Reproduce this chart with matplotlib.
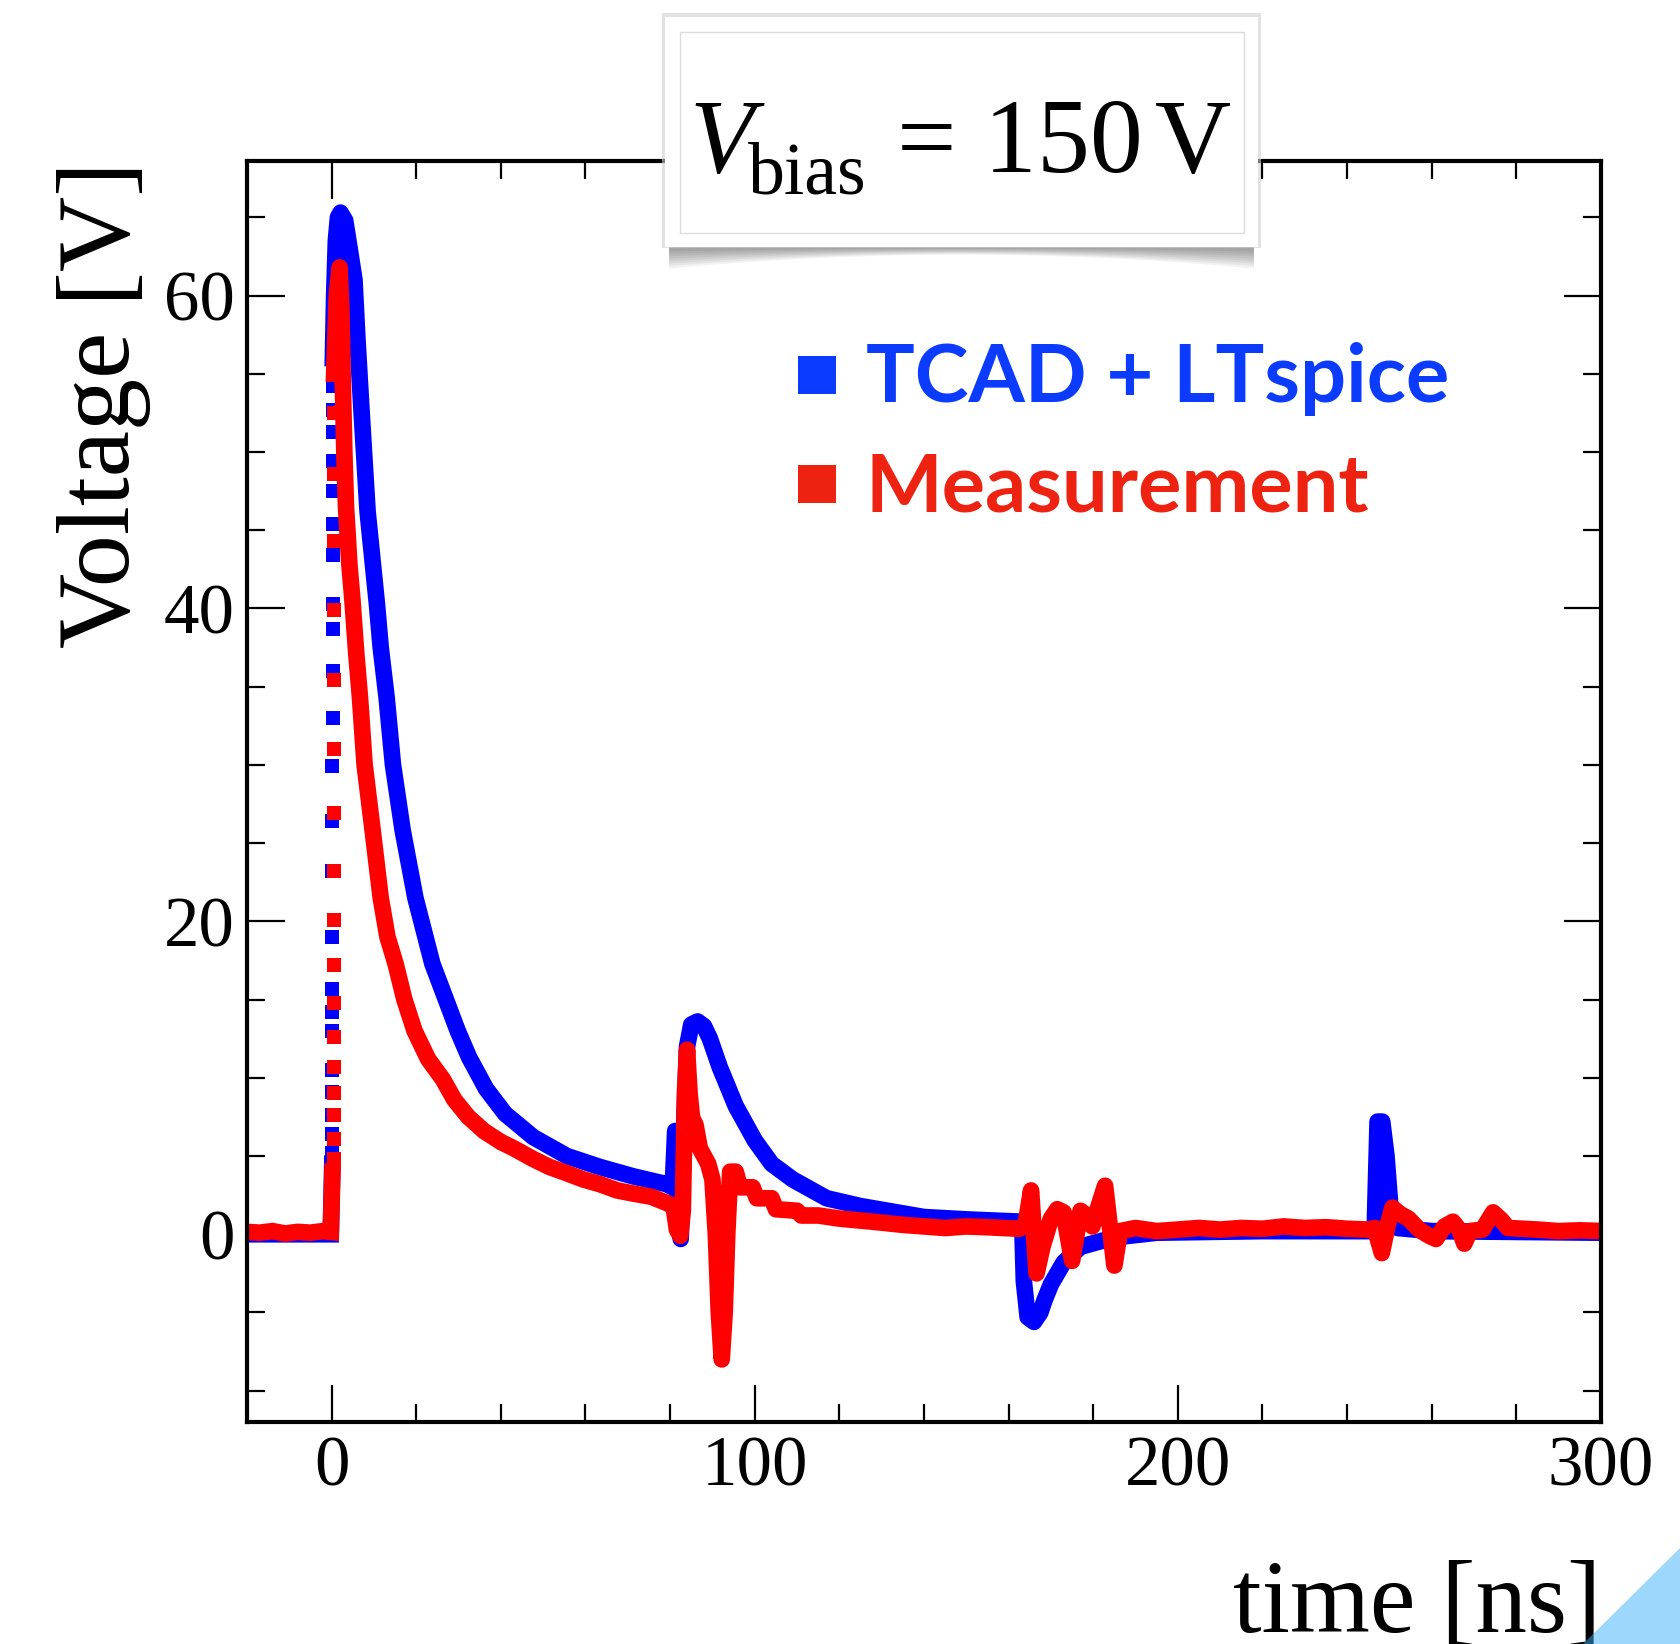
import numpy as np
import matplotlib.pyplot as plt
from matplotlib.lines import Line2D
from matplotlib.patches import Rectangle, Polygon

plt.rcParams['font.family'] = ['Liberation Serif', 'DejaVu Serif']
plt.rcParams['mathtext.fontset'] = 'custom'
plt.rcParams['mathtext.rm'] = 'Liberation Serif'
plt.rcParams['mathtext.it'] = 'Liberation Serif:italic'

# TCAD + LTspice simulation
tcad_t = [-20.0, -0.2, 0.15,
          0.3, 0.6, 1.0, 1.5, 2.1, 3.2, 4.2, 5.4, 6.1, 7.1, 8.5, 10.7, 11.6, 13.0,
          14.5, 16.8, 19.8, 23.8, 29.8, 32.5, 36.5, 41.0, 47.7, 55.6, 63.4, 71.3,
          79.2, 80.6, 81.2, 81.8, 82.5, 83.2, 84.0, 85.0, 86.5, 88.0, 89.4, 91.7,
          95.5, 100.0, 104.0, 109.0, 117.0, 125.0, 140.0, 150.0, 163.2, 163.6,
          164.5, 166.0, 167.5, 168.5, 170.0, 173.0, 177.0, 185.0, 195.0, 220.0,
          246.5, 247.2, 248.3, 249.3, 250.3, 252.0, 260.0, 300.0]
tcad_v = [0.0, 0.0, 4.5,
          56.0, 60.0, 63.5, 65.0, 65.3, 64.8, 63.1, 61.0, 57.2, 52.5, 46.2, 40.3, 37.5, 34.3,
          30.0, 25.8, 21.5, 17.3, 13.0, 11.3, 9.3, 7.7, 6.2, 5.0, 4.3, 3.7,
          3.2, 3.0, 6.6, 3.0, -0.3, 6.0, 12.0, 13.4, 13.6, 13.3, 12.5, 10.7,
          8.2, 6.0, 4.5, 3.5, 2.3, 1.8, 1.1, 0.95, 0.8, -3.0,
          -5.3, -5.6, -5.0, -4.2, -3.2, -1.8, -0.8, -0.2, 0.1, 0.2,
          0.2, 7.2, 7.2, 5.0, 1.5, 0.4, 0.2, 0.1]
# sparse samples on the fast rising edge
tcad_rise_t = [0.15, 0.15, 0.15, 0.15, 0.15, 0.2, 0.2, 0.2, 0.2, 0.2, 0.2, 0.2,
               0.25, 0.25, 0.25, 0.25, 0.3, 0.3, 0.3, 0.3, 0.3, 0.3, 0.3]
tcad_rise_v = [5.2, 6.4, 7.6, 9.1, 10.5, 13.0, 14.2, 15.7, 19.0, 23.2, 26.4, 29.9,
               33.0, 36.0, 38.7, 40.3, 43.4, 45.4, 47.5, 49.4, 51.3, 52.7, 54.2]

# Measurement
meas_t = [-20.0, -17.0, -14.0, -11.0, -8.0, -5.0, -2.0, -0.2, 0.2,
          0.6, 1.2, 1.9, 2.3, 2.6, 3.0, 3.4, 4.2, 4.9, 5.8, 6.7, 7.8, 9.7, 11.6,
          13.2, 15.1, 17.2, 19.6, 22.8, 26.3, 29.0, 32.3, 36.0, 40.0, 43.0, 47.7,
          51.5, 55.6, 59.5, 63.4, 67.5, 71.3, 75.5, 79.2, 80.8, 81.6, 82.4, 83.0,
          83.5, 84.0, 84.6, 85.2, 86.0, 87.0, 88.0, 89.0, 90.0, 90.8, 91.5, 92.2,
          92.9, 93.5, 94.2, 95.5, 96.5, 99.5, 100.5, 104.0, 105.0, 110.0, 111.0,
          115.0, 120.0, 128.0, 135.0, 145.0, 150.0, 155.0, 162.5, 164.0, 165.3,
          166.6, 168.0, 170.0, 171.5, 173.0, 175.0, 177.0, 178.5, 179.8, 181.5,
          182.8, 184.0, 185.0, 186.3, 190.0, 195.0, 200.0, 205.0, 210.0, 215.0,
          220.0, 225.0, 230.0, 235.0, 240.0, 245.0, 246.5, 248.2, 249.5, 250.7,
          252.5, 254.5, 257.0, 259.4, 261.0, 263.0, 265.0, 266.5, 267.7, 269.0,
          272.0, 274.5, 276.5, 278.0, 285.0, 290.0, 295.0, 301.0]
meas_v = [0.15, 0.1, 0.2, 0.05, 0.15, 0.1, 0.2, 0.15, 4.0,
          55.0, 60.0, 61.8, 59.0, 55.0, 50.0, 46.5, 42.8, 40.6, 37.2, 34.3, 30.0, 25.8, 21.5,
          19.0, 17.3, 15.0, 13.0, 11.2, 9.9, 8.6, 7.5, 6.6, 5.9, 5.5, 4.8,
          4.3, 3.9, 3.5, 3.2, 2.8, 2.6, 2.4, 2.0, 1.8, 0.3, -0.1, 1.5,
          9.0, 11.8, 9.0, 7.4, 7.0, 5.5, 5.0, 4.5, 3.5, 0.0, -5.0, -8.0,
          -5.0, 0.0, 4.0, 4.0, 3.0, 3.0, 2.3, 2.3, 1.6, 1.5, 1.2,
          1.2, 1.0, 0.8, 0.6, 0.4, 0.5, 0.45, 0.35, 0.6, 2.8,
          -2.5, -0.8, 1.0, 1.6, 1.4, -1.7, 1.5, 1.2, 0.5, 2.0,
          3.1, 0.3, -2.0, 0.2, 0.4, 0.2, 0.3, 0.4, 0.3, 0.4,
          0.35, 0.5, 0.4, 0.45, 0.35, 0.3, 0.4, -1.2, 0.5, 1.7,
          1.3, 1.0, 0.3, -0.1, -0.3, 0.5, 0.8, 0.3, -0.6, 0.2,
          0.3, 1.4, 0.9, 0.4, 0.3, 0.2, 0.25, 0.2]
meas_rise_t = [0.45] * 17
meas_rise_v = [4.8, 6.1, 7.6, 9.0, 10.7, 12.6, 14.8, 17.2, 20.1, 23.2, 26.9,
               31.0, 35.4, 39.9, 44.3, 48.6, 52.5]

labels = ['TCAD + LTspice', 'Measurement']

W, H = 1681, 1644
fig = plt.figure(figsize=(W / 100, H / 100), dpi=100)
ax = fig.add_axes([247 / W, 1 - 1422 / H, (1601 - 247) / W, (1422 - 161) / H])

blue, red = '#0000ff', '#ff0000'
lw, ms = 12, 10.5

# simulation: split at the sparse rise
ax.plot(tcad_t[:3], tcad_v[:3], color=blue, lw=lw, solid_joinstyle='miter')
ax.plot(tcad_t[3:], tcad_v[3:], color=blue, lw=lw, solid_joinstyle='round')
ax.plot(tcad_rise_t, tcad_rise_v, 's', color=blue, ms=ms, mew=0)
# measurement on top
ax.plot(meas_t[:9], meas_v[:9], color=red, lw=lw, solid_joinstyle='miter')
ax.plot(meas_t[9:], meas_v[9:], color=red, lw=lw, solid_joinstyle='round')
ax.plot(meas_rise_t, meas_rise_v, 's', color=red, ms=ms, mew=0)

ax.set_xlim(-20, 300)
ax.set_ylim(-12, 68.6)
ax.set_xticks([0, 100, 200, 300])
ax.set_xticks(np.arange(-20, 301, 20), minor=True)
ax.set_yticks([0, 20, 40, 60])
ax.set_yticks(np.arange(-10, 66, 5), minor=True)
ax.tick_params(which='both', direction='in', top=True, right=True, width=1.6,
               labelsize=51)
ax.tick_params(which='major', length=27)
ax.tick_params(which='minor', length=13)
ax.tick_params(axis='x', pad=10)
ax.tick_params(axis='y', pad=9)
for s in ax.spines.values():
    s.set_linewidth(3)

fig.text(104 / W, 1 - 161 / H, 'Voltage [V]', rotation=90, ha='center', va='top',
         fontsize=75)
fig.text(1601 / W, 1 - 1632 / H, 'time [ns]', ha='right', va='baseline',
         fontsize=74)

# title box with soft shadow
x0, x1, y0, y1 = 665, 1258, 17, 247
for k in range(8):
    d = 22 - 2.5 * k
    xs = np.linspace(x0 + 4, x1 - 4, 60)
    u = (xs - (x0 + x1) / 2) / ((x1 - x0) / 2)
    ys = y1 + d * (0.35 + 0.65 * u ** 2)
    pts = [(x0 + 4, y1 - 5)] + list(zip(xs, ys)) + [(x1 - 4, y1 - 5)]
    pts = [(px / W, 1 - py / H) for px, py in pts]
    fig.add_artist(Polygon(pts, closed=True, transform=fig.transFigure,
                           facecolor='black', edgecolor='none', alpha=0.05, zorder=2))
fig.add_artist(Rectangle(((x0 - 3) / W, 1 - (y1 + 1) / H), (x1 - x0 + 6) / W,
                         (y1 - y0 + 5) / H, transform=fig.transFigure,
                         facecolor='#d0d0d0', edgecolor='none', alpha=0.6, zorder=2))
fig.add_artist(Rectangle((x0 / W, 1 - y1 / H), (x1 - x0) / W, (y1 - y0) / H,
                         transform=fig.transFigure, facecolor='white',
                         edgecolor='none', zorder=3))
fig.add_artist(Rectangle((680 / W, 1 - 233 / H), 564 / W, 201 / H,
                         transform=fig.transFigure, facecolor='none',
                         edgecolor='#dcdcdc', lw=1, zorder=4))
fig.text(689 / W, 1 - 172 / H, r'$V$', ha='left', va='baseline',
         fontsize=76, zorder=5)
fig.text(748 / W, 1 - 193 / H, 'bias', ha='left', va='baseline', fontsize=53, zorder=5)
fig.text(1232 / W, 1 - 172 / H, r'$=\,150\,\mathrm{V}$', ha='right', va='baseline',
         fontsize=76, zorder=5)

# legend
leg_cols = ['#0b3bff', '#ee2211']
leg_y = [375, 484]
txt_y = [402, 511]
for lab, c, yy, ty in zip(labels, leg_cols, leg_y, txt_y):
    fig.add_artist(Line2D([817 / W], [1 - yy / H], marker='s', ms=27.5, color=c,
                          mew=0, transform=fig.transFigure))
    fig.text(866 / W, 1 - ty / H, lab, color=c, family='Lato', weight='bold',
             fontsize=58.5, ha='left', va='baseline')

# corner triangle
fig.add_artist(Polygon([(1681 / W, 1 - 1547 / H), (1681 / W, 0), (1583 / W, 0)],
                       closed=True, transform=fig.transFigure,
                       facecolor=(0.24, 0.70, 0.98), edgecolor='none',
                       alpha=0.5, zorder=6))

fig.savefig('out.png', dpi=100)
